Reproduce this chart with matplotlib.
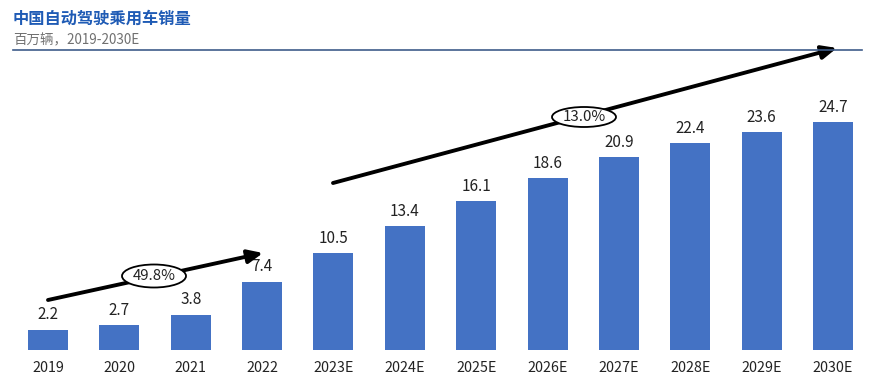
import matplotlib
matplotlib.use("Agg")
import matplotlib.pyplot as plt
from matplotlib.patches import Ellipse

plt.rcParams['font.family'] = ['Noto Sans CJK SC', 'DejaVu Sans']

years = ["2019", "2020", "2021", "2022", "2023E", "2024E", "2025E", "2026E",
         "2027E", "2028E", "2029E", "2030E"]
sales = [2.2, 2.7, 3.8, 7.4, 10.5, 13.4, 16.1, 18.6, 20.9, 22.4, 23.6, 24.7]
cagr_labels = ["49.8%", "13.0%"]
title = "中国自动驾驶乘用车销量"
subtitle = "百万辆，2019-2030E"

W, H = 875, 390
fig = plt.figure(figsize=(W / 100, H / 100), dpi=100)
ax = fig.add_axes([0, 0, 1, 1])

px_x = 71.36
px_y = 9.23
ax.set_xlim(-48 / px_x, (W - 48) / px_x)
ax.set_ylim(-(H - 350) / px_y, 350 / px_y)
ax.axis('off')

xs = list(range(len(years)))
ax.bar(xs, sales, width=0.56, color="#4472C4", zorder=2)
for x, v in zip(xs, sales):
    ax.text(x, v + 0.7, f"{v}", ha='center', va='bottom', fontsize=11, color="#222222")
    ax.text(x, -1.95, years[x], ha='center', va='center', fontsize=10.3, color="#222222")

def py(ypix):
    return (350 - ypix) / px_y

def pxv(xpix):
    return (xpix - 48) / px_x

ax.annotate("", xy=(pxv(263), py(253)), xytext=(0, py(300)),
            arrowprops=dict(arrowstyle="-|>,head_length=0.9,head_width=0.4",
                            color="black", lw=2.8, shrinkA=0, shrinkB=0), zorder=3)
ax.annotate("", xy=(pxv(837), py(48)), xytext=(pxv(333), py(183)),
            arrowprops=dict(arrowstyle="-|>,head_length=0.9,head_width=0.4",
                            color="black", lw=2.8, shrinkA=0, shrinkB=0), zorder=3)

for (cx, cy, w, h, lab) in [(154, 276, 64, 23, cagr_labels[0]),
                            (584, 117, 64, 20, cagr_labels[1])]:
    e = Ellipse((pxv(cx), py(cy)), width=w / px_x, height=h / px_y,
                facecolor='white', edgecolor='black', lw=1.3, zorder=4)
    ax.add_patch(e)
    ax.text(pxv(cx), py(cy), lab, ha='center', va='center', fontsize=10.8,
            color='#222222', zorder=5)

fig.text(13 / W, 1 - 19 / H, title, ha='left', va='center', fontsize=11.7,
         fontweight='bold', color="#1F5BB5")
fig.text(13 / W, 1 - 40 / H, subtitle, ha='left', va='center', fontsize=9.7,
         color="#707070")
fig.add_artist(plt.Line2D([13 / W, 862 / W], [1 - 50 / H, 1 - 50 / H],
                          color="#3E5C8A", lw=1.2))

fig.savefig("out.png", dpi=100, facecolor='white')
